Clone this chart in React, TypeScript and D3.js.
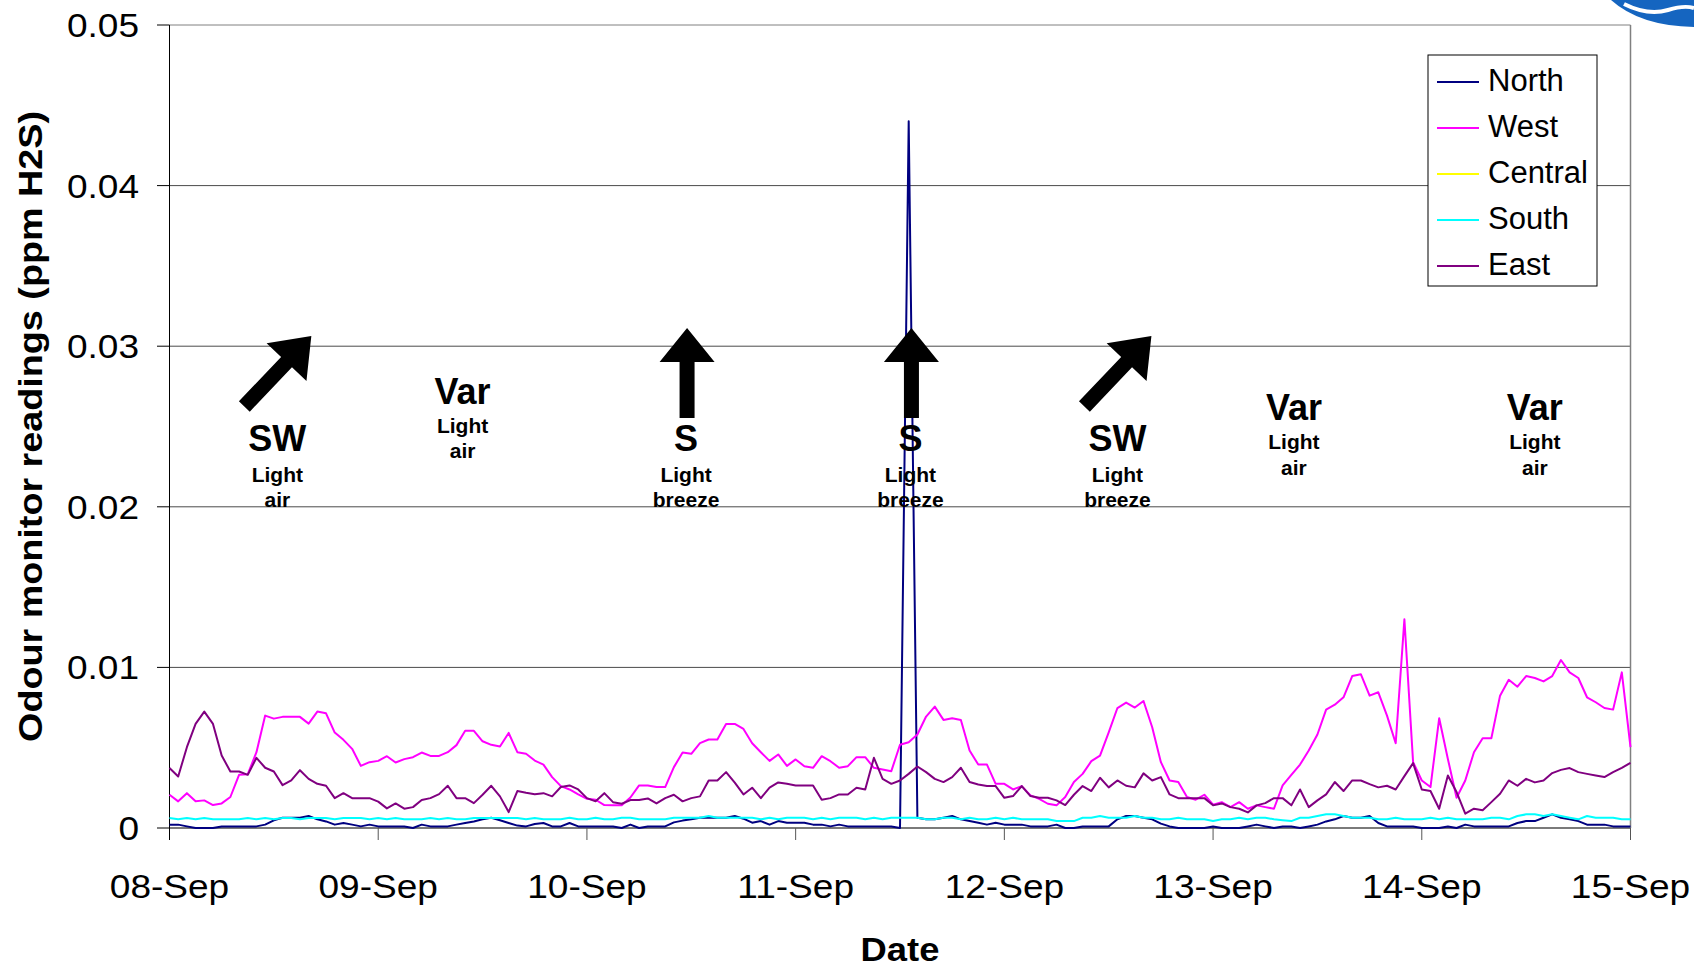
import React from "react";
import * as d3 from "d3";

// ---- DATA (values in thousandths of ppm H2S, hourly from 08-Sep 00:00) ----
const dayLabels = ["08-Sep", "09-Sep", "10-Sep", "11-Sep", "12-Sep", "13-Sep", "14-Sep", "15-Sep"];
const yTickValues = [0, 0.01, 0.02, 0.03, 0.04, 0.05];
const yTickLabels = ["0", "0.01", "0.02", "0.03", "0.04", "0.05"];

const northMilli = [
  0.21, 0.21, 0.1, 0, 0, 0, 0.1, 0.1, 0.1, 0.1,
  0.1, 0.21, 0.48, 0.64, 0.64, 0.64, 0.75, 0.54, 0.41, 0.21,
  0.31, 0.21, 0.1, 0.21, 0.1, 0.1, 0.1, 0.1, 0, 0.21,
  0.1, 0.1, 0.1, 0.21, 0.31, 0.41, 0.54, 0.64, 0.48, 0.31,
  0.15, 0.1, 0.25, 0.31, 0.1, 0.1, 0.31, 0.1, 0.1, 0.1,
  0.1, 0.1, 0, 0.21, 0, 0.1, 0.1, 0.1, 0.35, 0.46,
  0.54, 0.64, 0.64, 0.64, 0.64, 0.75, 0.58, 0.33, 0.43, 0.21,
  0.43, 0.33, 0.33, 0.33, 0.21, 0.21, 0.1, 0.21, 0.1, 0.1,
  0.1, 0.1, 0.1, 0.1, 0, 44, 0.64, 0.54, 0.54, 0.64,
  0.75, 0.54, 0.43, 0.33, 0.21, 0.33, 0.21, 0.21, 0.21, 0.1,
  0.1, 0.1, 0.21, 0, 0, 0.1, 0.1, 0.1, 0.1, 0.54,
  0.75, 0.75, 0.64, 0.54, 0.27, 0.1, 0, 0, 0, 0,
  0.1, 0, 0, 0, 0.1, 0.21, 0.1, 0, 0.1, 0.1,
  0, 0.1, 0.21, 0.41, 0.54, 0.75, 0.64, 0.64, 0.75, 0.31,
  0.1, 0.1, 0.1, 0.1, 0, 0, 0, 0.1, 0, 0.21,
  0.1, 0.1, 0.1, 0.1, 0.1, 0.31, 0.43, 0.43, 0.64, 0.85,
  0.64, 0.54, 0.43, 0.21, 0.21, 0.21, 0.1, 0.1, 0.1,
];

const westMilli = [
  2.07, 1.66, 2.17, 1.66, 1.72, 1.43, 1.53, 1.93, 3.31, 3.35,
  4.72, 7.0, 6.81, 6.92, 6.92, 6.92, 6.5, 7.25, 7.14, 5.94,
  5.49, 4.93, 3.87, 4.1, 4.18, 4.47, 4.08, 4.29, 4.41, 4.7,
  4.49, 4.49, 4.72, 5.16, 6.05, 6.05, 5.4, 5.18, 5.07, 5.92,
  4.72, 4.62, 4.2, 3.95, 3.17, 2.61, 2.4, 2.09, 1.82, 1.76,
  1.43, 1.41, 1.41, 1.9, 2.65, 2.65, 2.55, 2.55, 3.79, 4.7,
  4.62, 5.28, 5.51, 5.51, 6.48, 6.48, 6.17, 5.28, 4.72, 4.18,
  4.58, 3.87, 4.27, 3.85, 3.75, 4.47, 4.16, 3.75, 3.85, 4.41,
  4.41, 3.75, 3.64, 3.54, 5.18, 5.34, 5.82, 6.94, 7.56, 6.73,
  6.83, 6.73, 4.82, 3.95, 3.95, 2.75, 2.75, 2.4, 2.61, 2.03,
  1.82, 1.51, 1.41, 1.93, 2.86, 3.37, 4.16, 4.51, 5.96, 7.47,
  7.81, 7.5, 7.91, 6.27, 4.1, 2.96, 2.86, 1.93, 1.76, 2.07,
  1.45, 1.61, 1.3, 1.61, 1.2, 1.41, 1.3, 1.2, 2.65, 3.31,
  3.95, 4.82, 5.82, 7.37, 7.68, 8.14, 9.46, 9.57, 8.24, 8.45,
  7.0, 5.28, 13.0, 4.1, 2.96, 2.55, 6.83, 4.3, 1.88, 2.96,
  4.72, 5.59, 5.59, 8.24, 9.23, 8.8, 9.46, 9.34, 9.13, 9.46,
  10.46, 9.69, 9.34, 8.14, 7.83, 7.47, 7.37, 9.69, 5.03,
];

const centralMilli: number[] = [];

const southMilli = [
  0.62, 0.54, 0.62, 0.54, 0.62, 0.54, 0.54, 0.54, 0.54, 0.62,
  0.54, 0.62, 0.54, 0.62, 0.62, 0.54, 0.62, 0.62, 0.62, 0.54,
  0.62, 0.62, 0.62, 0.54, 0.62, 0.54, 0.62, 0.54, 0.54, 0.54,
  0.62, 0.54, 0.62, 0.54, 0.54, 0.62, 0.62, 0.62, 0.62, 0.62,
  0.62, 0.54, 0.62, 0.54, 0.54, 0.54, 0.64, 0.54, 0.54, 0.64,
  0.54, 0.54, 0.64, 0.64, 0.54, 0.54, 0.54, 0.54, 0.64, 0.64,
  0.64, 0.64, 0.75, 0.64, 0.64, 0.64, 0.64, 0.64, 0.54, 0.64,
  0.54, 0.64, 0.64, 0.64, 0.54, 0.64, 0.54, 0.64, 0.64, 0.64,
  0.54, 0.64, 0.54, 0.64, 0.64, 0.64, 0.64, 0.54, 0.54, 0.64,
  0.64, 0.54, 0.64, 0.54, 0.54, 0.64, 0.54, 0.64, 0.54, 0.54,
  0.54, 0.54, 0.43, 0.43, 0.43, 0.64, 0.64, 0.75, 0.64, 0.64,
  0.64, 0.75, 0.64, 0.64, 0.54, 0.54, 0.64, 0.54, 0.54, 0.54,
  0.43, 0.54, 0.54, 0.64, 0.54, 0.64, 0.64, 0.54, 0.48, 0.43,
  0.64, 0.64, 0.75, 0.85, 0.85, 0.75, 0.64, 0.64, 0.64, 0.54,
  0.54, 0.64, 0.54, 0.54, 0.54, 0.64, 0.54, 0.64, 0.54, 0.54,
  0.54, 0.54, 0.64, 0.64, 0.54, 0.75, 0.85, 0.85, 0.75, 0.85,
  0.75, 0.64, 0.54, 0.75, 0.64, 0.64, 0.64, 0.54, 0.54,
];

const eastMilli = [
  3.73, 3.21, 5.03, 6.48, 7.25, 6.48, 4.51, 3.52, 3.52, 3.31,
  4.37, 3.75, 3.52, 2.67, 2.96, 3.6, 3.06, 2.75, 2.63, 1.86,
  2.17, 1.86, 1.86, 1.86, 1.64, 1.22, 1.53, 1.2, 1.3, 1.74,
  1.86, 2.11, 2.63, 1.86, 1.86, 1.55, 2.07, 2.63, 1.97, 0.99,
  2.3, 2.19, 2.1, 2.17, 1.97, 2.55, 2.65, 2.4, 1.86, 1.66,
  2.17, 1.61, 1.51, 1.74, 1.74, 1.84, 1.53, 1.86, 2.07, 1.66,
  1.86, 1.97, 2.96, 2.96, 3.48, 2.82, 2.09, 2.51, 1.86, 2.51,
  2.84, 2.75, 2.65, 2.65, 2.65, 1.76, 1.86, 2.09, 2.09, 2.51,
  2.4, 4.37, 3.06, 2.75, 2.96, 3.37, 3.83, 3.48, 3.06, 2.86,
  3.17, 3.75, 2.86, 2.71, 2.61, 2.61, 1.88, 1.99, 2.61, 1.99,
  1.88, 1.88, 1.72, 1.43, 2.07, 2.61, 2.3, 3.13, 2.53, 2.96,
  2.63, 2.53, 3.4, 2.96, 3.17, 2.09, 1.86, 1.86, 1.86, 1.86,
  1.41, 1.53, 1.3, 1.2, 0.97, 1.41, 1.55, 1.86, 1.86, 1.41,
  2.4, 1.3, 1.72, 2.09, 2.86, 2.3, 2.96, 2.96, 2.73, 2.53,
  2.63, 2.4, 3.23, 4.04, 2.4, 2.3, 1.2, 3.27, 2.24, 0.89,
  1.2, 1.1, 1.61, 2.13, 2.96, 2.63, 3.06, 2.84, 2.96, 3.42,
  3.62, 3.73, 3.48, 3.37, 3.27, 3.17, 3.48, 3.75, 4.06,
];

const seriesNames = ["North", "West", "Central", "South", "East"];
const seriesColors = ["#000080", "#FF00FF", "#FFFF00", "#00FFFF", "#800080"];
const seriesMilli = [northMilli, westMilli, centralMilli, southMilli, eastMilli];

// Wind annotations: anchor hour, direction label, strength lines
const windHours = [12.4, 33.7, 59.4, 85.2, 109.0, 129.3, 157.0];
const windDirs = ["SW", "Var", "S", "S", "SW", "Var", "Var"];
const windStrength = [
  ["Light", "air"],
  ["Light", "air"],
  ["Light", "breeze"],
  ["Light", "breeze"],
  ["Light", "breeze"],
  ["Light", "air"],
  ["Light", "air"],
];

// ---- LAYOUT ----
const W = 1694;
const H = 967;
const X0 = 169.5;
const X1 = 1630.5;
const YTOP = 25;
const YBOT = 828;
const FONT = "'Liberation Sans', Arial, Helvetica, sans-serif";
const AXIS_FS = 34;
const STRETCH = 1.09;

function arrowPoints(x1: number, y1: number, x2: number, y2: number, sw: number, hw: number, hl: number) {
  const dx = x2 - x1;
  const dy = y2 - y1;
  const len = Math.hypot(dx, dy);
  const ux = dx / len;
  const uy = dy / len;
  const nx = -uy;
  const ny = ux;
  const bx = x2 - ux * hl;
  const by = y2 - uy * hl;
  const pts = [
    [x1 + nx * sw / 2, y1 + ny * sw / 2],
    [bx + nx * sw / 2, by + ny * sw / 2],
    [bx + nx * hw / 2, by + ny * hw / 2],
    [x2, y2],
    [bx - nx * hw / 2, by - ny * hw / 2],
    [bx - nx * sw / 2, by - ny * sw / 2],
    [x1 - nx * sw / 2, y1 - ny * sw / 2],
  ];
  return pts.map((p) => p.join(",")).join(" ");
}

export default function App() {
  const x = d3.scaleLinear().domain([0, 168]).range([X0, X1]);
  const y = d3.scaleLinear().domain([0, 0.05]).range([YBOT, YTOP]);

  const line = d3
    .line<number>()
    .x((_, i) => x(i))
    .y((v) => y(v / 1000));

  const legendRowY = [82, 128, 174, 220, 266];

  return (
    <svg
      width={W}
      height={H}
      viewBox={`0 0 ${W} ${H}`}
      style={{ position: "absolute", left: 0, top: 0, background: "#fff" }}
      fontFamily={FONT}
    >
      <rect x={0} y={0} width={W} height={H} fill="#fff" />

      {/* logo fragment top-right */}
      <g>
        <path d="M1611,0 Q1640,26 1694,27 L1694,0 Z" fill="#1565C0" />
        <path d="M1624,4 Q1648,16 1668,10 Q1684,5 1694,8" fill="none" stroke="#fff" strokeWidth={4} />
      </g>

      {/* gridlines */}
      {yTickValues.slice(1).map((v, i) => (
        <line
          key={"g" + i}
          x1={X0}
          x2={X1}
          y1={y(v)}
          y2={y(v)}
          stroke={v === 0.05 ? "#808080" : "#4a4a4a"}
          strokeWidth={1}
        />
      ))}

      {/* right border */}
      <line x1={X1} x2={X1} y1={YTOP} y2={YBOT} stroke="#808080" strokeWidth={1.5} />

      {/* y ticks */}
      {yTickValues.map((v, i) => (
        <g key={"yt" + i}>
          <line x1={157} x2={X0} y1={y(v)} y2={y(v)} stroke="#000" strokeWidth={1} />
          <text
            transform={`translate(139, ${y(v)}) scale(${STRETCH}, 1)`}
            dy="0.35em"
            textAnchor="end"
            fontSize={AXIS_FS}
            fill="#000"
          >
            {yTickLabels[i]}
          </text>
        </g>
      ))}

      {/* x axis */}
      <line x1={X0} x2={X1} y1={YBOT} y2={YBOT} stroke="#7a7a7a" strokeWidth={2} />
      {dayLabels.map((lab, i) => (
        <g key={"xt" + i}>
          <line x1={x(i * 24)} x2={x(i * 24)} y1={YBOT} y2={YBOT + 12} stroke={i === 0 ? "#000" : "#555"} strokeWidth={1} />
          <text
            transform={`translate(${x(i * 24)}, 898) scale(${STRETCH}, 1)`}
            textAnchor="middle"
            fontSize={AXIS_FS}
            fill="#000"
          >
            {lab}
          </text>
        </g>
      ))}

      {/* y axis line */}
      <line x1={X0} x2={X0} y1={YTOP} y2={YBOT + 12} stroke="#000" strokeWidth={1} />

      {/* series */}
      {seriesMilli.map((vals, si) =>
        vals.length > 0 ? (
          <path
            key={"s" + si}
            d={line(vals) || ""}
            fill="none"
            stroke={seriesColors[si]}
            strokeWidth={2}
            strokeLinejoin="round"
          />
        ) : null
      )}

      {/* wind annotations */}
      {windDirs.map((dir, i) => {
        const cx = x(windHours[i]);
        const isVar = dir === "Var";
        const isOuterVar = isVar && i > 2;
        const bigY = isVar ? (isOuterVar ? 420 : 404) : 451;
        const l1 = isVar ? (isOuterVar ? 449 : 433) : 481.5;
        const l2 = isVar ? (isOuterVar ? 475 : 458) : 506.5;
        return (
          <g key={"w" + i}>
            {dir === "SW" && (
              <polygon points={arrowPoints(cx - 33, 406.5, cx + 34, 336, 15, 55, 36)} fill="#000" />
            )}
            {dir === "S" && (
              <polygon points={arrowPoints(cx + 1, 418, cx + 1, 328, 15, 55, 34)} fill="#000" />
            )}
            <text x={cx} y={bigY} textAnchor="middle" fontSize={36} fontWeight="bold" fill="#000">
              {dir}
            </text>
            <text x={cx} y={l1} textAnchor="middle" fontSize={21} fontWeight="bold" fill="#000">
              {windStrength[i][0]}
            </text>
            <text x={cx} y={l2} textAnchor="middle" fontSize={21} fontWeight="bold" fill="#000">
              {windStrength[i][1]}
            </text>
          </g>
        );
      })}

      {/* legend */}
      <rect x={1428} y={55} width={169} height={231} fill="#fff" stroke="#000" strokeWidth={1} />
      {seriesNames.map((n, i) => (
        <g key={"lg" + i}>
          <line x1={1437} x2={1479} y1={legendRowY[i]} y2={legendRowY[i]} stroke={seriesColors[i]} strokeWidth={2} />
          <text x={1488} y={legendRowY[i]} dy="0.3em" fontSize={31} fill="#000">
            {n}
          </text>
        </g>
      ))}

      {/* axis titles */}
      <text
        transform={`translate(42, ${(YTOP + YBOT) / 2}) rotate(-90) scale(1.11, 1)`}
        textAnchor="middle"
        fontSize={AXIS_FS}
        fontWeight="bold"
        fill="#000"
      >
        Odour monitor readings (ppm H2S)
      </text>
      <text
        transform={`translate(900, 961) scale(1.07, 1)`}
        textAnchor="middle"
        fontSize={AXIS_FS}
        fontWeight="bold"
        fill="#000"
      >
        Date
      </text>
    </svg>
  );
}
